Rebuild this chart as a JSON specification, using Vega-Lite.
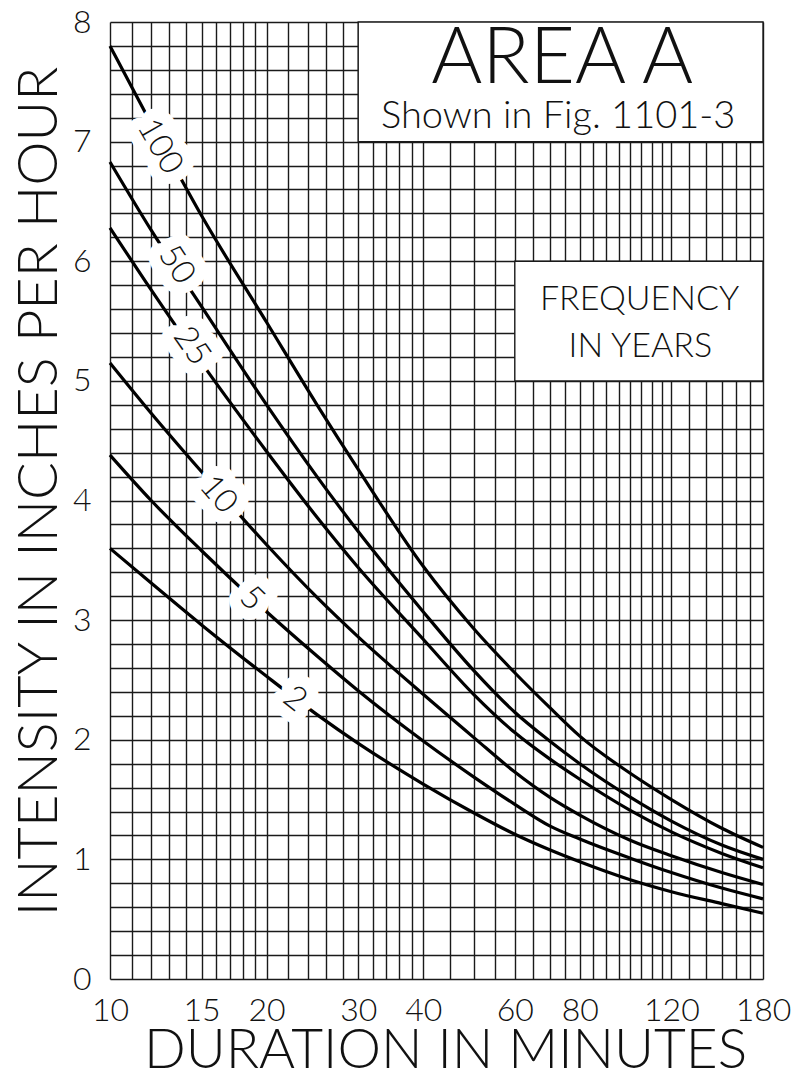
{
  "$schema": "https://vega.github.io/schema/vega-lite/v6.json",
  "width": 653,
  "height": 957,
  "autosize": {"type": "none"},
  "padding": {"left": 110, "top": 22, "right": 28, "bottom": 99},
  "background": "white",
  "config": {"view": {"stroke": null}, "font": "Lato"},
  "datasets": {
    "curves": [
      {"freq": "100", "dur": 10, "val": 7.80}, {"freq": "100", "dur": 12, "val": 7.15}, {"freq": "100", "dur": 15, "val": 6.38}, {"freq": "100", "dur": 20, "val": 5.49}, {"freq": "100", "dur": 25, "val": 4.80}, {"freq": "100", "dur": 30, "val": 4.26}, {"freq": "100", "dur": 40, "val": 3.45}, {"freq": "100", "dur": 50, "val": 2.93}, {"freq": "100", "dur": 60, "val": 2.56}, {"freq": "100", "dur": 70, "val": 2.27}, {"freq": "100", "dur": 80, "val": 2.03}, {"freq": "100", "dur": 100, "val": 1.72}, {"freq": "100", "dur": 120, "val": 1.50}, {"freq": "100", "dur": 150, "val": 1.26}, {"freq": "100", "dur": 180, "val": 1.10},
      {"freq": "50", "dur": 10, "val": 6.83}, {"freq": "50", "dur": 12, "val": 6.26}, {"freq": "50", "dur": 15, "val": 5.62}, {"freq": "50", "dur": 20, "val": 4.80}, {"freq": "50", "dur": 25, "val": 4.20}, {"freq": "50", "dur": 30, "val": 3.74}, {"freq": "50", "dur": 40, "val": 3.07}, {"freq": "50", "dur": 50, "val": 2.58}, {"freq": "50", "dur": 60, "val": 2.23}, {"freq": "50", "dur": 70, "val": 1.99}, {"freq": "50", "dur": 80, "val": 1.80}, {"freq": "50", "dur": 100, "val": 1.52}, {"freq": "50", "dur": 120, "val": 1.32}, {"freq": "50", "dur": 150, "val": 1.12}, {"freq": "50", "dur": 180, "val": 1.00},
      {"freq": "25", "dur": 10, "val": 6.28}, {"freq": "25", "dur": 12, "val": 5.76}, {"freq": "25", "dur": 15, "val": 5.15}, {"freq": "25", "dur": 20, "val": 4.41}, {"freq": "25", "dur": 25, "val": 3.86}, {"freq": "25", "dur": 30, "val": 3.44}, {"freq": "25", "dur": 40, "val": 2.84}, {"freq": "25", "dur": 50, "val": 2.38}, {"freq": "25", "dur": 60, "val": 2.06}, {"freq": "25", "dur": 70, "val": 1.84}, {"freq": "25", "dur": 80, "val": 1.67}, {"freq": "25", "dur": 100, "val": 1.41}, {"freq": "25", "dur": 120, "val": 1.23}, {"freq": "25", "dur": 150, "val": 1.05}, {"freq": "25", "dur": 180, "val": 0.93},
      {"freq": "10", "dur": 10, "val": 5.15}, {"freq": "10", "dur": 12, "val": 4.73}, {"freq": "10", "dur": 15, "val": 4.24}, {"freq": "10", "dur": 20, "val": 3.63}, {"freq": "10", "dur": 25, "val": 3.19}, {"freq": "10", "dur": 30, "val": 2.86}, {"freq": "10", "dur": 40, "val": 2.38}, {"freq": "10", "dur": 50, "val": 2.02}, {"freq": "10", "dur": 60, "val": 1.73}, {"freq": "10", "dur": 70, "val": 1.52}, {"freq": "10", "dur": 80, "val": 1.37}, {"freq": "10", "dur": 100, "val": 1.16}, {"freq": "10", "dur": 120, "val": 1.03}, {"freq": "10", "dur": 150, "val": 0.89}, {"freq": "10", "dur": 180, "val": 0.79},
      {"freq": "5", "dur": 10, "val": 4.38}, {"freq": "5", "dur": 12, "val": 4.00}, {"freq": "5", "dur": 15, "val": 3.58}, {"freq": "5", "dur": 20, "val": 3.07}, {"freq": "5", "dur": 25, "val": 2.70}, {"freq": "5", "dur": 30, "val": 2.41}, {"freq": "5", "dur": 40, "val": 1.99}, {"freq": "5", "dur": 50, "val": 1.69}, {"freq": "5", "dur": 60, "val": 1.46}, {"freq": "5", "dur": 70, "val": 1.28}, {"freq": "5", "dur": 80, "val": 1.17}, {"freq": "5", "dur": 100, "val": 1.01}, {"freq": "5", "dur": 120, "val": 0.89}, {"freq": "5", "dur": 150, "val": 0.76}, {"freq": "5", "dur": 180, "val": 0.67},
      {"freq": "2", "dur": 10, "val": 3.60}, {"freq": "2", "dur": 12, "val": 3.31}, {"freq": "2", "dur": 15, "val": 2.96}, {"freq": "2", "dur": 20, "val": 2.53}, {"freq": "2", "dur": 25, "val": 2.21}, {"freq": "2", "dur": 30, "val": 1.97}, {"freq": "2", "dur": 40, "val": 1.63}, {"freq": "2", "dur": 50, "val": 1.39}, {"freq": "2", "dur": 60, "val": 1.21}, {"freq": "2", "dur": 70, "val": 1.08}, {"freq": "2", "dur": 80, "val": 0.98}, {"freq": "2", "dur": 100, "val": 0.83}, {"freq": "2", "dur": 120, "val": 0.73}, {"freq": "2", "dur": 150, "val": 0.63}, {"freq": "2", "dur": 180, "val": 0.55}
    ],
    "boxes": [
      {"dur": 30, "dur2": 180, "val": 7, "val2": 8},
      {"dur": 60, "dur2": 180, "val": 5, "val2": 6}
    ],
    "labels": [
      {"freq": "100", "dur": 12.47, "val": 6.96},
      {"freq": "50", "dur": 13.43, "val": 5.97},
      {"freq": "25", "dur": 14.36, "val": 5.29},
      {"freq": "10", "dur": 16.15, "val": 4.05},
      {"freq": "5", "dur": 18.74, "val": 3.18},
      {"freq": "2", "dur": 22.68, "val": 2.34}
    ],
    "bigTitle": [{"dur": 74, "val": 7.49, "text": "AREA A"}],
    "subTitle": [{"dur": 72.7, "val": 7.11, "text": "Shown in Fig. 1101-3"}],
    "legendNote": [
      {"dur": 104.2, "val": 5.594, "text": "FREQUENCY"},
      {"dur": 104.6, "val": 5.203, "text": "IN YEARS"}
    ]
  },
  "encoding": {
    "x": {
      "field": "dur",
      "type": "quantitative",
      "scale": {"type": "log", "domain": [10, 180], "nice": false},
      "axis": {
        "values": [10, 11, 12, 13, 14, 15, 16, 17, 18, 19, 20, 22, 24, 26, 28, 30, 32, 34, 36, 38, 40, 45, 50, 55, 60, 65, 70, 75, 80, 85, 90, 95, 100, 105, 110, 115, 120, 130, 140, 150, 160, 170, 180],
        "labelExpr": "indexof([10, 15, 20, 30, 40, 60, 80, 120, 180], datum.value) >= 0 ? '' + datum.value : ''",
        "grid": true,
        "gridColor": "#1a1a1a",
        "gridWidth": 1.4,
        "gridOpacity": 1,
        "ticks": false,
        "domain": false,
        "labelFont": "Lato",
        "labelFontSize": 32,
        "labelFontWeight": 300,
        "labelColor": "#111",
        "labelPadding": 16,
        "labelFlush": false,
        "labelOverlap": false,
        "labelBound": false,
        "title": "DURATION IN MINUTES",
        "titleFont": "Lato",
        "titleFontSize": 55,
        "titleFontWeight": 300,
        "titleColor": "#111",
        "titleX": 335,
        "titleY": 88,
        "titleAlign": "center",
        "titleBaseline": "alphabetic",
        "titleAngle": 0
      }
    },
    "y": {
      "field": "val",
      "type": "quantitative",
      "scale": {"domain": [0, 8], "nice": false, "zero": true},
      "axis": {
        "values": [0, 0.2, 0.4, 0.6, 0.8, 1, 1.2, 1.4, 1.6, 1.8, 2, 2.2, 2.4, 2.6, 2.8, 3, 3.2, 3.4, 3.6, 3.8, 4, 4.2, 4.4, 4.6, 4.8, 5, 5.2, 5.4, 5.6, 5.8, 6, 6.2, 6.4, 6.6, 6.8, 7, 7.2, 7.4, 7.6, 7.8, 8],
        "labelExpr": "datum.value % 1 === 0 ? '' + datum.value : ''",
        "grid": true,
        "gridColor": "#1a1a1a",
        "gridWidth": 1.4,
        "gridOpacity": 1,
        "ticks": false,
        "domain": false,
        "labelFont": "Lato",
        "labelFontSize": 32,
        "labelFontWeight": 300,
        "labelColor": "#111",
        "labelPadding": 19,
        "labelFlush": false,
        "labelOverlap": false,
        "labelBound": false,
        "title": "INTENSITY IN INCHES PER HOUR",
        "titleFont": "Lato",
        "titleFontSize": 56,
        "titleFontWeight": 300,
        "titleColor": "#111",
        "titleX": -54,
        "titleY": 469,
        "titleAlign": "center",
        "titleBaseline": "alphabetic",
        "titleAngle": -90
      }
    }
  },
  "layer": [
    {
      "data": {"name": "boxes"},
      "mark": {"type": "rect", "fill": "white", "stroke": "#1a1a1a", "strokeWidth": 1.4},
      "encoding": {"x2": {"field": "dur2"}, "y2": {"field": "val2"}}
    },
    {
      "data": {"name": "curves"},
      "mark": {"type": "line", "stroke": "black", "strokeWidth": 3.2, "interpolate": "monotone", "strokeJoin": "round"},
      "encoding": {"detail": {"field": "freq", "type": "nominal"}}
    },
    {
      "data": {"name": "labels"},
      "transform": [{"filter": "datum.freq == '100'"}],
      "layer": [
        {"mark": {"type": "text", "font": "Lato", "fontSize": 33, "fontWeight": 300, "angle": 60, "align": "center", "baseline": "middle", "fill": "white", "stroke": "white", "strokeWidth": 24, "strokeJoin": "round"}, "encoding": {"text": {"field": "freq"}}},
        {"mark": {"type": "text", "font": "Lato", "fontSize": 33, "fontWeight": 300, "angle": 60, "align": "center", "baseline": "middle", "fill": "#111"}, "encoding": {"text": {"field": "freq"}}}
      ]
    },
    {
      "data": {"name": "labels"},
      "transform": [{"filter": "datum.freq == '50'"}],
      "layer": [
        {"mark": {"type": "text", "font": "Lato", "fontSize": 33, "fontWeight": 300, "angle": 57, "align": "center", "baseline": "middle", "fill": "white", "stroke": "white", "strokeWidth": 24, "strokeJoin": "round"}, "encoding": {"text": {"field": "freq"}}},
        {"mark": {"type": "text", "font": "Lato", "fontSize": 33, "fontWeight": 300, "angle": 57, "align": "center", "baseline": "middle", "fill": "#111"}, "encoding": {"text": {"field": "freq"}}}
      ]
    },
    {
      "data": {"name": "labels"},
      "transform": [{"filter": "datum.freq == '25'"}],
      "layer": [
        {"mark": {"type": "text", "font": "Lato", "fontSize": 33, "fontWeight": 300, "angle": 55, "align": "center", "baseline": "middle", "fill": "white", "stroke": "white", "strokeWidth": 24, "strokeJoin": "round"}, "encoding": {"text": {"field": "freq"}}},
        {"mark": {"type": "text", "font": "Lato", "fontSize": 33, "fontWeight": 300, "angle": 55, "align": "center", "baseline": "middle", "fill": "#111"}, "encoding": {"text": {"field": "freq"}}}
      ]
    },
    {
      "data": {"name": "labels"},
      "transform": [{"filter": "datum.freq == '10'"}],
      "layer": [
        {"mark": {"type": "text", "font": "Lato", "fontSize": 33, "fontWeight": 300, "angle": 49, "align": "center", "baseline": "middle", "fill": "white", "stroke": "white", "strokeWidth": 24, "strokeJoin": "round"}, "encoding": {"text": {"field": "freq"}}},
        {"mark": {"type": "text", "font": "Lato", "fontSize": 33, "fontWeight": 300, "angle": 49, "align": "center", "baseline": "middle", "fill": "#111"}, "encoding": {"text": {"field": "freq"}}}
      ]
    },
    {
      "data": {"name": "labels"},
      "transform": [{"filter": "datum.freq == '5'"}],
      "layer": [
        {"mark": {"type": "text", "font": "Lato", "fontSize": 33, "fontWeight": 300, "angle": 44, "align": "center", "baseline": "middle", "fill": "white", "stroke": "white", "strokeWidth": 24, "strokeJoin": "round"}, "encoding": {"text": {"field": "freq"}}},
        {"mark": {"type": "text", "font": "Lato", "fontSize": 33, "fontWeight": 300, "angle": 44, "align": "center", "baseline": "middle", "fill": "#111"}, "encoding": {"text": {"field": "freq"}}}
      ]
    },
    {
      "data": {"name": "labels"},
      "transform": [{"filter": "datum.freq == '2'"}],
      "layer": [
        {"mark": {"type": "text", "font": "Lato", "fontSize": 33, "fontWeight": 300, "angle": 38, "align": "center", "baseline": "middle", "fill": "white", "stroke": "white", "strokeWidth": 24, "strokeJoin": "round"}, "encoding": {"text": {"field": "freq"}}},
        {"mark": {"type": "text", "font": "Lato", "fontSize": 33, "fontWeight": 300, "angle": 38, "align": "center", "baseline": "middle", "fill": "#111"}, "encoding": {"text": {"field": "freq"}}}
      ]
    },
    {
      "data": {"name": "bigTitle"},
      "mark": {"type": "text", "font": "Lato", "fontSize": 78, "fontWeight": 300, "align": "center", "baseline": "alphabetic", "fill": "#111"},
      "encoding": {"text": {"field": "text"}}
    },
    {
      "data": {"name": "subTitle"},
      "mark": {"type": "text", "font": "Lato", "fontSize": 38, "fontWeight": 300, "align": "center", "baseline": "alphabetic", "fill": "#111"},
      "encoding": {"text": {"field": "text"}}
    },
    {
      "data": {"name": "legendNote"},
      "mark": {"type": "text", "font": "Lato", "fontSize": 34, "fontWeight": 300, "align": "center", "baseline": "alphabetic", "fill": "#111"},
      "encoding": {"text": {"field": "text"}}
    }
  ]
}
